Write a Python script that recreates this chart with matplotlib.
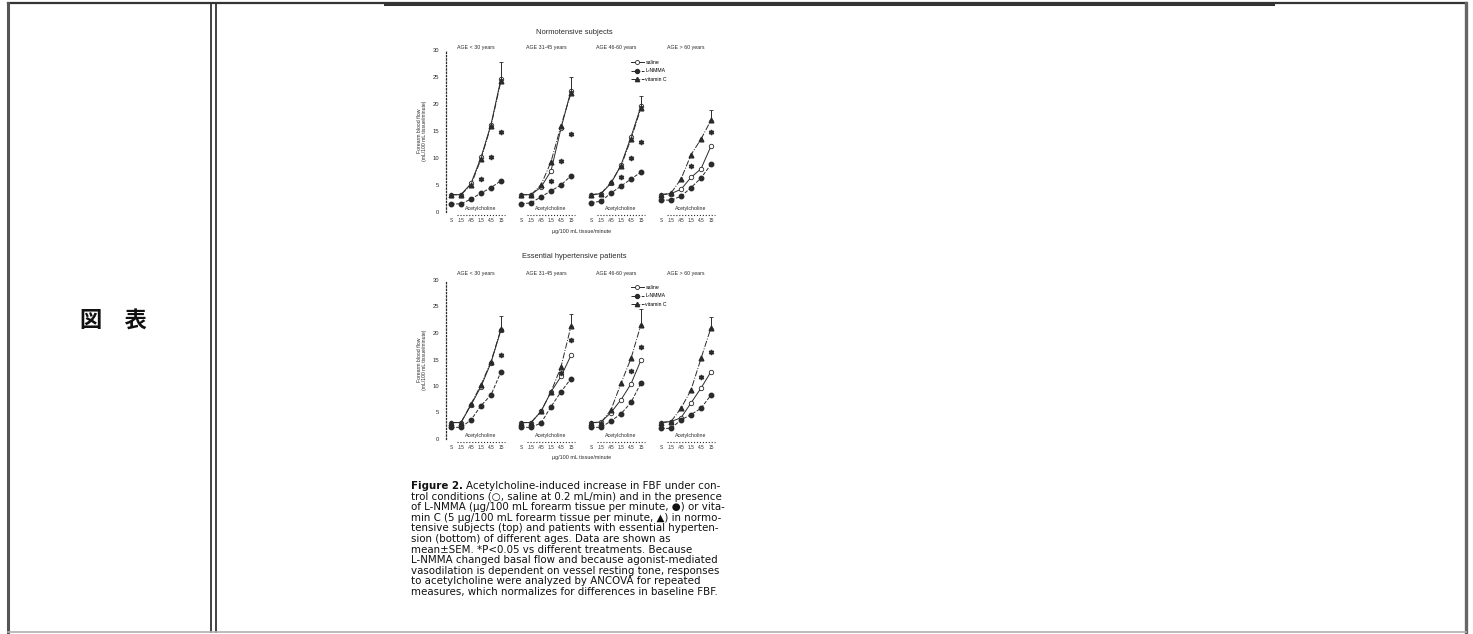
import numpy as np
import matplotlib
matplotlib.use("Agg")
import matplotlib.pyplot as plt
from matplotlib.lines import Line2D

# =============================================================================
# Scanned table cell: "図 表" label on the left and Figure 2 (FBF response to
# acetylcholine, 8 small panels + caption) on the right.
# =============================================================================

W, H = 1473, 634

dose_labels = ["S", ".15", ".45", "1.5", "4.5", "15"]
age_labels = ["AGE < 30 years", "AGE 31-45 years", "AGE 46-60 years", "AGE > 60 years"]
series_names = ["saline", "L-NMMA", "vitamin C"]

# Normotensive subjects (top row), forearm blood flow per dose
normo_saline = [[3.2, 3.2, 5.3, 10.1, 16.2, 24.7],
                [3.2, 3.2, 4.6, 7.6, 15.5, 22.5],
                [3.2, 3.4, 5.3, 8.7, 13.9, 19.6],
                [3.2, 3.4, 4.2, 6.4, 8.0, 12.2]]
normo_lnmma = [[1.5, 1.5, 2.4, 3.5, 4.5, 5.8],
               [1.5, 1.7, 2.8, 3.9, 5.0, 6.7],
               [1.7, 2.0, 3.5, 4.8, 6.1, 7.4],
               [2.2, 2.2, 2.9, 4.5, 6.3, 8.8]]
normo_vitc = [[3.2, 3.2, 5.0, 9.8, 16.0, 24.3],
              [3.2, 3.2, 5.0, 9.3, 16.0, 22.0],
              [3.2, 3.4, 5.5, 8.5, 13.5, 19.3],
              [3.2, 3.5, 6.1, 10.6, 13.5, 17.0]]
normo_err = [3.0, 2.5, 1.8, 1.9]
normo_star_x = [[3, 4, 5], [3, 4, 5], [3, 4, 5], [3, 5]]
normo_star_y = [[6.2, 10.1, 14.9], [5.8, 9.4, 14.4], [6.4, 10.0, 13.0], [8.6, 14.9]]

# Essential hypertensive patients (bottom row)
hyper_saline = [[3.1, 3.1, 6.4, 9.9, 14.4, 20.6],
                [3.1, 3.1, 5.2, 8.9, 11.8, 15.8],
                [3.1, 3.2, 5.0, 7.4, 10.4, 14.9],
                [3.1, 3.3, 4.0, 6.8, 9.6, 12.7]]
hyper_lnmma = [[2.2, 2.2, 3.6, 6.3, 8.3, 12.7],
               [2.2, 2.2, 3.0, 6.1, 8.9, 11.4],
               [2.2, 2.2, 3.4, 4.75, 6.9, 10.6],
               [2.0, 2.0, 3.6, 4.6, 5.8, 8.3]]
hyper_vitc = [[3.1, 3.1, 6.6, 10.2, 14.6, 20.8],
              [3.1, 3.1, 5.2, 8.9, 13.6, 21.3],
              [3.1, 3.1, 5.5, 10.5, 15.2, 21.6],
              [3.1, 3.3, 5.8, 9.25, 15.2, 21.0]]
hyper_err = [2.5, 2.2, 2.9, 2.0]
hyper_star_x = [[5], [4, 5], [4, 5], [4, 5]]
hyper_star_y = [[15.8], [12.5, 18.6], [12.8, 17.4], [11.75, 16.4]]

caption_head = "Figure 2."
caption = [
    "Acetylcholine-induced increase in FBF under con-",
    "trol conditions (\u25cb, saline at 0.2 mL/min) and in the presence",
    "of L-NMMA (\u00b5g/100 mL forearm tissue per minute, \u25cf) or vita-",
    "min C (5 \u00b5g/100 mL forearm tissue per minute, \u25b2) in normo-",
    "tensive subjects (top) and patients with essential hyperten-",
    "sion (bottom) of different ages. Data are shown as",
    "mean\u00b1SEM. *P<0.05 vs different treatments. Because",
    "L-NMMA changed basal flow and because agonist-mediated",
    "vasodilation is dependent on vessel resting tone, responses",
    "to acetylcholine were analyzed by ANCOVA for repeated",
    "measures, which normalizes for differences in baseline FBF.",
]

INK = "#2a2a2a"
plt.rcParams['font.family'] = ['Liberation Sans', 'DejaVu Sans']

fig = plt.figure(figsize=(W / 100, H / 100), dpi=100)


def px_line(x0, y0, x1, y1, lw=1.0, color="#333333"):
    fig.add_artist(Line2D([x0 / W, x1 / W], [1 - y0 / H, 1 - y1 / H],
                          transform=fig.transFigure, lw=lw, color=color))


# table borders
px_line(8, 3, 1466, 3, lw=1.6)
px_line(385, 4, 1273, 4, lw=2.2)
px_line(8, 3, 8, 632, lw=2.2, color="#555555")
px_line(211, 3, 211, 632, lw=1.3)
px_line(216, 3, 216, 632, lw=1.3)
px_line(1466, 3, 1466, 632, lw=2.4, color="#666666")
px_line(8, 632, 1466, 632, lw=1.2, color="#b0b0b0")

fig.text(113 / W, 1 - 320 / H, "図\u3000表", fontsize=16, fontweight="bold",
         family=["Noto Sans CJK JP", "DejaVu Sans"], ha="center", va="center", color="#111111")


def draw_group(y0_px, y30_px, saline, lnmma, vitc, err, star_x, star_y, title, title_y, age_y, legend_y):
    xs = np.arange(6)
    axes = []
    for i in range(4):
        left = (446 + 70 * i) / W
        bottom = 1 - y0_px / H
        ax = fig.add_axes([left, bottom, 60 / W, (y0_px - y30_px) / H])
        ax.set_xlim(-0.5, 5.5)
        ax.set_ylim(0, 30)
        ax.patch.set_alpha(0)
        for s in ["top", "right", "bottom"]:
            ax.spines[s].set_visible(False)
        ax.plot(xs, saline[i], "-", color=INK, lw=0.7, marker="o", ms=3.2,
                mfc="white", mec=INK, mew=0.6, label=series_names[0], clip_on=False)
        ax.plot(xs, lnmma[i], "--", color=INK, lw=0.7, marker="o", ms=3.2,
                mfc=INK, mec=INK, label=series_names[1], clip_on=False)
        ax.plot(xs, vitc[i], "-.", color=INK, lw=0.7, marker="^", ms=3.4,
                mfc=INK, mec=INK, label=series_names[2], clip_on=False)
        top_last = max(saline[i][-1], vitc[i][-1])
        ax.errorbar([xs[-1]], [top_last], yerr=[[0], [err[i]]], fmt="none",
                    ecolor=INK, elinewidth=0.7, capsize=1.2, capthick=0.6, clip_on=False)
        ax.plot(star_x[i], star_y[i], linestyle="none", marker="$*$", ms=3.0,
                color=INK, clip_on=False)

        ax.set_xticks(xs)
        ax.set_xticklabels(dose_labels, fontsize=3.4, color=INK)
        ax.tick_params(axis="x", length=0, pad=4)
        # acetylcholine bracket
        ax.plot([xs[1] - 0.4, xs[-1] + 0.4], [-0.6, -0.6], ":", color=INK, lw=0.8, clip_on=False)
        ax.text((xs[1] + xs[-1]) / 2, 0.6, "Acetylcholine", fontsize=3.8, ha="center",
                va="center", color=INK)

        if i == 0:
            ax.spines["left"].set_linestyle(":")
            ax.spines["left"].set_linewidth(0.9)
            ax.spines["left"].set_color(INK)
            ax.set_yticks([0, 5, 10, 15, 20, 25, 30])
            ax.tick_params(axis="y", length=0, labelsize=4.2, labelcolor=INK, pad=5)
            ax.set_ylabel("Forearm blood flow\n(mL/100 mL tissue/minute)", fontsize=3.7,
                          color=INK, linespacing=1.1)
            ax.yaxis.set_label_coords(-0.31, 0.5)
        else:
            ax.spines["left"].set_visible(False)
            ax.set_yticks([])
        fig.text((476 + 70 * i) / W, 1 - age_y / H, age_labels[i], fontsize=3.8,
                 ha="center", va="center", color=INK)
        axes.append(ax)

    fig.text(574 / W, 1 - title_y / H, title, fontsize=5.4, ha="center", va="center", color=INK)
    fig.text(582 / W, 1 - (y0_px + 19) / H, "\u00b5g/100 mL tissue/minute", fontsize=3.9,
             ha="center", va="center", color=INK)
    axes[3].legend(loc="upper left", bbox_to_anchor=(628 / W, 1 - legend_y / H),
                   bbox_transform=fig.transFigure, fontsize=3.7, frameon=False,
                   handlelength=2.6, handletextpad=0.3, labelspacing=0.75,
                   borderpad=0, markerscale=0.9)


draw_group(212, 50, normo_saline, normo_lnmma, normo_vitc, normo_err,
           normo_star_x, normo_star_y, "Normotensive subjects", 32, 48, 57)
draw_group(439, 280, hyper_saline, hyper_lnmma, hyper_vitc, hyper_err,
           hyper_star_x, hyper_star_y, "Essential hypertensive patients", 257, 274, 282)

# caption
CAP_FS = 7.4
CAP_FONT = ["DejaVu Sans"]
renderer = fig.canvas.get_renderer()
for k, line in enumerate(caption):
    y = 1 - (486 + 10.6 * k) / H
    x0 = 411
    if k == 0:
        head = fig.text(x0 / W, y, caption_head, fontsize=CAP_FS, fontweight="bold",
                        family=CAP_FONT, ha="left", va="center", color="#111111")
        x0 = head.get_window_extent(renderer).x1 + 3
    fig.text(x0 / W, y, line, fontsize=CAP_FS, family=CAP_FONT, ha="left", va="center",
             color="#111111")

fig.savefig("out.png", dpi=100)
